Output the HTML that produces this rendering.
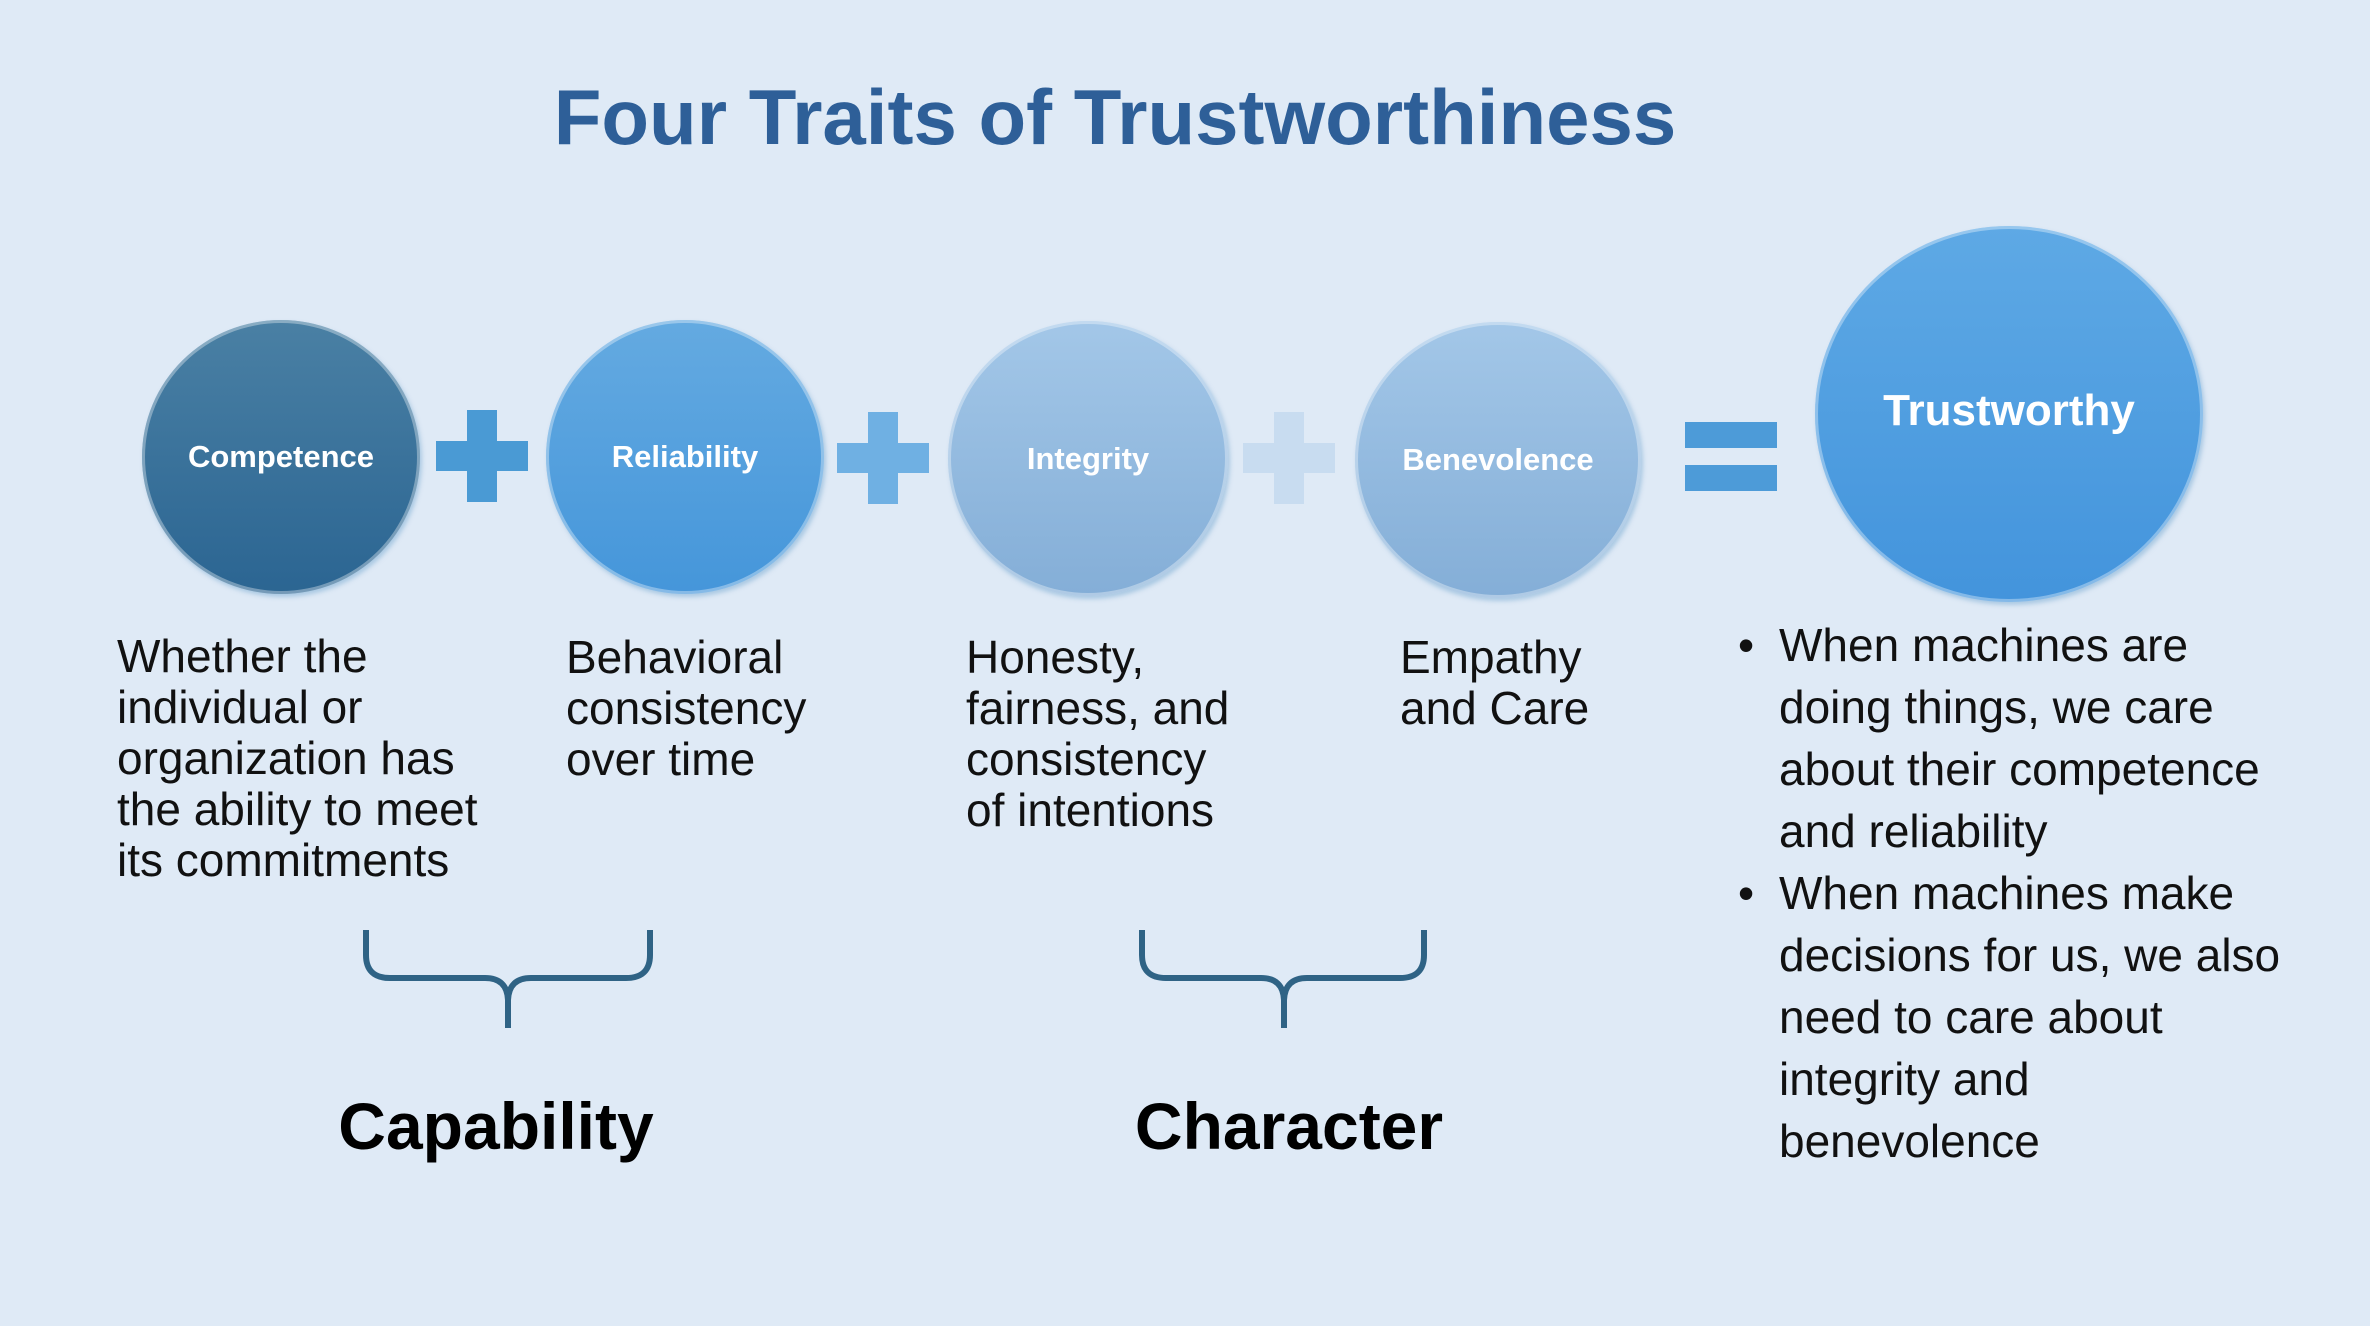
<!DOCTYPE html>
<html><head><meta charset="utf-8"><style>
html,body{margin:0;padding:0}
body{width:2370px;height:1326px;background:#dfeaf6;position:relative;overflow:hidden;font-family:"Liberation Sans","DejaVu Sans",sans-serif}
.t{position:absolute;white-space:nowrap}
.c{position:absolute;border-radius:50%;display:flex;align-items:center;justify-content:center;color:#fff;font-weight:bold;font-size:31px;box-shadow:inset 0 0 0 3px rgba(255,255,255,.35),2px 3px 4px rgba(120,170,210,.5)}
.body{position:absolute;font-size:46px;line-height:51px;color:#111;white-space:nowrap}
</style></head><body>
<div class="t" style="left:0;width:2230px;text-align:center;top:72px;font-size:78px;font-weight:bold;color:#2e5f98">Four Traits of Trustworthiness</div>

<div class="c" style="left:142px;top:320px;width:278px;height:274px;background:linear-gradient(#4a80a4,#2b6592)">Competence</div>
<div class="c" style="left:546px;top:320px;width:278px;height:274px;background:linear-gradient(#64aae1,#4596da)">Reliability</div>
<div class="c" style="left:948px;top:321px;width:280px;height:275px;background:linear-gradient(#a3c7e8,#84aed7)">Integrity</div>
<div class="c" style="left:1355px;top:322px;width:286px;height:276px;background:linear-gradient(#a3c7e8,#84aed7)">Benevolence</div>
<div class="c" style="left:1815px;top:226px;width:388px;height:376px;font-size:44px;align-items:flex-start;padding-top:0;background:linear-gradient(#5ea9e5,#4394dc)"><span style="margin-top:160px">Trustworthy</span></div>

<svg width="2370" height="1326" style="position:absolute;left:0;top:0">
<g fill="#4a9ad4"><rect x="467" y="410" width="30" height="92"/><rect x="436" y="441" width="92" height="30"/></g>
<g fill="#6fb0e3"><rect x="868" y="412" width="30" height="92"/><rect x="837" y="443" width="92" height="30"/></g>
<g fill="#c8dcf0"><rect x="1274" y="412" width="30" height="92"/><rect x="1243" y="443" width="92" height="30"/></g>
<g fill="#4d9bd8"><rect x="1685" y="422" width="92" height="26"/><rect x="1685" y="465" width="92" height="26"/></g>
<g fill="none" stroke="#2f6385" stroke-width="6">
<path d="M366 930 V955 Q366 978 390 978 H485 Q507 978 508 1000 V1028 M508 1000 Q509 978 531 978 H626 Q650 978 650 955 V930"/>
<path d="M1142 930 V955 Q1142 978 1166 978 H1261 Q1283 978 1284 1000 V1028 M1284 1000 Q1285 978 1307 978 H1400 Q1424 978 1424 955 V930"/>
</g>
</svg>

<div class="body" style="left:117px;top:631px">Whether the<br>individual or<br>organization has<br>the ability to meet<br>its commitments</div>
<div class="body" style="left:566px;top:632px">Behavioral<br>consistency<br>over time</div>
<div class="body" style="left:966px;top:632px">Honesty,<br>fairness, and<br>consistency<br>of intentions</div>
<div class="body" style="left:1400px;top:632px">Empathy<br>and Care</div>
<div class="body" style="left:1779px;top:614px;line-height:62px">When machines are<br>doing things, we care<br>about their competence<br>and reliability<br>When machines make<br>decisions for us, we also<br>need to care about<br>integrity and<br>benevolence</div>
<div class="body" style="left:1738px;top:614px;line-height:62px">•<br><br><br><br>•</div>

<div class="t" style="left:296px;width:400px;text-align:center;top:1088px;font-size:66px;font-weight:bold;color:#000">Capability</div>
<div class="t" style="left:1089px;width:400px;text-align:center;top:1088px;font-size:66px;font-weight:bold;color:#000">Character</div>
</body></html>
